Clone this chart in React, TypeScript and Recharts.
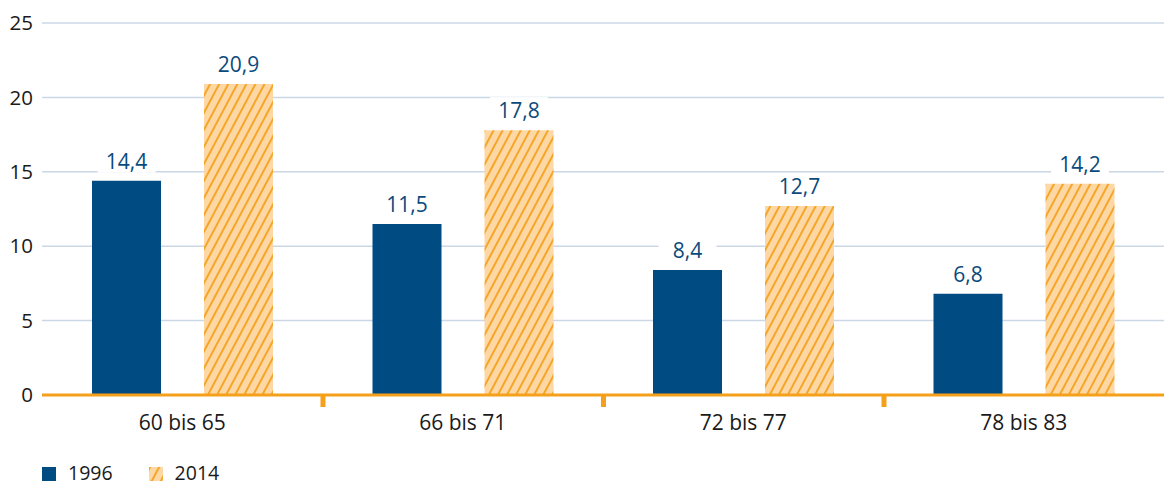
import React from 'react';
import { BarChart, Bar, XAxis, YAxis, CartesianGrid, LabelList } from 'recharts';

const categories = ['60 bis 65', '66 bis 71', '72 bis 77', '78 bis 83'];
const values1996 = [14.4, 11.5, 8.4, 6.8];
const values2014 = [20.9, 17.8, 12.7, 14.2];
const yTicks = [0, 5, 10, 15, 20, 25];

const BLUE = '#004c82';
const ORANGE = '#f5a01a';
const LIGHT = '#fdd8a5';
const LABEL = '#0b4a7c';
const FONT = '"Open Sans", "Noto Sans", sans-serif';

const data = categories.map((c, i) => ({
  name: c,
  y1996: values1996[i],
  y2014: values2014[i],
}));

const fmt = (v: number) => v.toFixed(1).replace('.', ',');

const ValueLabel = (props: any) => {
  const { x, y, width, value } = props;
  const cx = x + width / 2;
  return (
    <g>
      <rect x={cx - 29} y={y - 33} width={58} height={25} fill="#fff" />
      <text x={cx} y={y - 12} textAnchor="middle" fill={LABEL} fontSize={21} fontFamily={FONT}>
        {fmt(value)}
      </text>
    </g>
  );
};

const CategoryTick = (props: any) => {
  const { x, y, payload, index } = props;
  const half = payload?.offset || 140;
  return (
    <g>
      <text x={x} y={y + 33} textAnchor="middle" fill="#1a1a1a" fontSize={21} fontFamily={FONT}>
        {payload.value}
      </text>
      {index < categories.length - 1 && (
        <rect x={x + half - 2} y={y - 2} width={5} height={12} fill={ORANGE} />
      )}
    </g>
  );
};

export default function App() {
  return (
    <div style={{ position: 'fixed', left: 0, top: 0, width: 1164, height: 486, background: '#fff' }}>
      <BarChart
        width={1164}
        height={486}
        data={data}
        margin={{ top: 23, right: 0, left: 0, bottom: 51 }}
        barCategoryGap={50}
        barGap={43}
      >
        <defs>
          <pattern id="hatch" width="8" height="8" patternUnits="userSpaceOnUse" patternTransform="rotate(28)">
            <rect width="8" height="8" fill={LIGHT} />
            <line x1="1" y1="0" x2="1" y2="8" stroke={ORANGE} strokeWidth={1.8} />
          </pattern>
        </defs>
        <CartesianGrid vertical={false} stroke="#ccd7e6" strokeWidth={1.5} />
        <YAxis
          width={42}
          domain={[0, 25]}
          ticks={yTicks}
          axisLine={false}
          tickLine={false}
          tickSize={0}
          tickMargin={9}
          tick={{ fill: '#1a1a1a', fontSize: 20.5, fontFamily: FONT }}
        />
        <XAxis
          dataKey="name"
          height={40}
          axisLine={{ stroke: ORANGE, strokeWidth: 3 }}
          tickLine={false}
          tickSize={0}
          interval={0}
          tick={<CategoryTick />}
        />
        <Bar dataKey="y1996" fill={BLUE} barSize={69} isAnimationActive={false}>
          <LabelList dataKey="y1996" content={<ValueLabel />} />
        </Bar>
        <Bar dataKey="y2014" fill="url(#hatch)" barSize={69} isAnimationActive={false}>
          <LabelList dataKey="y2014" content={<ValueLabel />} />
        </Bar>
      </BarChart>
      <div
        style={{
          position: 'absolute',
          left: 42,
          top: 459,
          height: 27,
          display: 'flex',
          alignItems: 'center',
          fontFamily: FONT,
          fontSize: 19.5,
          lineHeight: '27px',
          color: '#1a1a1a',
        }}
      >
        <span style={{ width: 14, height: 14, background: BLUE, display: 'inline-block', marginRight: 12, marginTop: 3 }} />
        <span style={{ marginRight: 36 }}>1996</span>
        <svg width={14} height={14} style={{ marginRight: 12, marginTop: 3 }}>
          <rect width={14} height={14} fill="url(#hatch)" />
        </svg>
        <span>2014</span>
      </div>
    </div>
  );
}
